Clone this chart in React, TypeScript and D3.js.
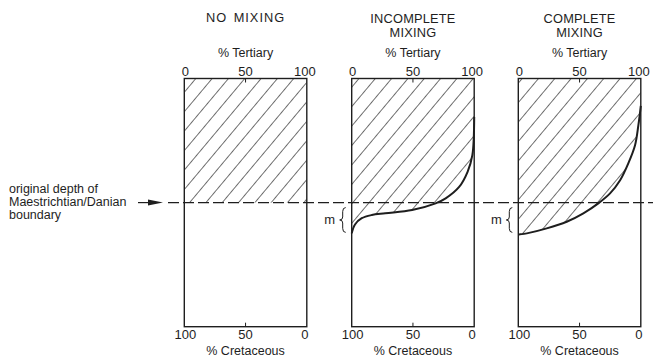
import * as d3 from 'd3';
import React from 'react';

// panel headings and axis labels
const panelTitles: string[][] = [['NO MIXING'], ['INCOMPLETE', 'MIXING'], ['COMPLETE', 'MIXING']];
const tertiaryTicks = [0, 50, 100];
const cretaceousTicks = [100, 50, 0];
const boundaryDepth = 50; // depth runs 0 (top) .. 100 (bottom)
const mixedZone = [52, 62];

// % Tertiary against depth
const incompleteTertiary = [100, 98.5, 94.6, 87.7, 76.7, 68.5, 49.3, 27.4, 16.4, 8.2, 2.7, 0];
const incompleteDepth = [15.5, 30.9, 37.6, 43.7, 48.3, 50.3, 53, 54.3, 55, 56.3, 58.8, 62.4];
const completeTertiary = [100, 98, 95.3, 89.8, 83.1, 74.9, 65.3, 53.1, 39.5, 23.2, 9.6, 1.4, 0];
const completeDepth = [11, 18.9, 26.9, 34.2, 41, 46.3, 50.3, 54.3, 57.7, 60.4, 62.1, 62.8, 62.8];

const curves: ({ t: number; d: number }[] | null)[] = [
  null,
  incompleteTertiary.map((t, i) => ({ t, d: incompleteDepth[i] })),
  completeTertiary.map((t, i) => ({ t, d: completeDepth[i] })),
];

const W = 653;
const H = 358;
const panelLeft = [184.3, 351.7, 518.3];
const panelW = 122.5;
const top = 78.5;
const bottom = 326.7;
const font = '"Liberation Sans", Arial, sans-serif';
const ink = '#1e1e1e';

const App: React.FC = () => {
  const y = d3.scaleLinear().domain([0, 100]).range([top, bottom]);
  const yb = y(boundaryDepth);

  return (
    <svg width={W} height={H} style={{ position: 'absolute', left: 0, top: 0, background: '#fff' }}
      fontFamily={font} fill={ink}>
      <defs>
        <pattern id="hatch" patternUnits="userSpaceOnUse" width={12.5} height={30}
          patternTransform="rotate(40)">
          <line x1={0} y1={0} x2={0} y2={30} stroke="#111" strokeWidth={1.2} />
        </pattern>
        {panelLeft.map((x0, i) => (
          <clipPath id={`clip${i}`} key={i}>
            <rect x={x0} y={top} width={panelW} height={bottom - top} />
          </clipPath>
        ))}
      </defs>

      {/* left annotation */}
      <g fontSize={12.5}>
        <text x={9} y={193}>original depth of</text>
        <text x={9} y={206}>Maestrichtian/Danian</text>
        <text x={9} y={219}>boundary</text>
      </g>
      <line x1={138} x2={152} y1={yb} y2={yb} stroke={ink} strokeWidth={1.2} />
      <path d={`M148,${yb - 3}L163,${yb}L148,${yb + 3}Z`} fill={ink} />

      {panelLeft.map((x0, i) => {
        const xT = d3.scaleLinear().domain([0, 100]).range([x0, x0 + panelW]);
        const xC = d3.scaleLinear().domain([100, 0]).range([x0, x0 + panelW]);
        const cx = x0 + panelW / 2;
        const pts = curves[i];
        const line = d3.line<{ t: number; d: number }>()
          .x(p => xT(p.t)).y(p => y(p.d))
          .curve(d3.curveCatmullRom.alpha(0.5));
        const linePath = pts ? line(pts) || '' : '';
        const fillPath = pts
          ? `M${xT(0)},${y(0)}L${xT(100)},${y(0)}` + linePath.replace(/^M/, 'L') + 'Z'
          : '';
        const titles = panelTitles[i];
        const bx = x0 - 6;
        const by1 = y(mixedZone[0]);
        const by2 = y(mixedZone[1]);
        const bm = (by1 + by2) / 2;
        return (
          <g key={i}>
            {titles.map((t, j) => (
              <text key={j} x={cx} y={titles.length === 1 ? 22 : 22.5 + j * 14.5} textAnchor="middle"
                fontSize={12.8} letterSpacing={titles.length === 1 ? 1 : 0.2}
                wordSpacing={titles.length === 1 ? 2 : 0}>{t}</text>
            ))}
            <text x={cx} y={57} textAnchor="middle" fontSize={12.5}>% Tertiary</text>
            {tertiaryTicks.map(v => (
              <text key={v} x={xT(v) + (v === 0 ? 1 : v === 100 ? -2 : 0)} y={76}
                textAnchor="middle" fontSize={13}>{v}</text>
            ))}
            {cretaceousTicks.map(v => (
              <text key={v} x={xC(v) + (v === 100 ? 1 : v === 0 ? -2 : 0)} y={339}
                textAnchor="middle" fontSize={13}>{v}</text>
            ))}
            <text x={cx} y={355} textAnchor="middle" fontSize={12.5}>% Cretaceous</text>

            <g clipPath={`url(#clip${i})`}>
              {pts ? (
                <path d={fillPath} fill="url(#hatch)" />
              ) : (
                <rect x={x0} y={y(0)} width={panelW} height={yb - y(0)} fill="url(#hatch)" />
              )}
            </g>
            <rect x={x0} y={top} width={panelW} height={bottom - top} fill="none" stroke={ink}
              strokeWidth={1.4} />
            <line x1={xT(50)} x2={xT(50)} y1={top} y2={top + 4} stroke={ink} strokeWidth={1} />
            <line x1={xC(50)} x2={xC(50)} y1={bottom} y2={bottom - 4} stroke={ink} strokeWidth={1} />
            {pts && (
              <>
                <path d={linePath} fill="none" stroke={ink} strokeWidth={2} />
                <path fill="none" stroke={ink} strokeWidth={1}
                  d={`M${bx},${by1}Q${bx - 3},${by1} ${bx - 3},${by1 + 4}L${bx - 3},${bm - 3}` +
                    `Q${bx - 3},${bm} ${bx - 6},${bm}Q${bx - 3},${bm} ${bx - 3},${bm + 3}` +
                    `L${bx - 3},${by2 - 4}Q${bx - 3},${by2} ${bx},${by2}`} />
                <text x={bx - 16} y={bm + 4} textAnchor="middle" fontSize={13}>m</text>
              </>
            )}
          </g>
        );
      })}

      {/* boundary */}
      <line x1={168} x2={W} y1={yb} y2={yb} stroke={ink} strokeWidth={1.1} strokeDasharray="11,4" />
    </svg>
  );
};

export default App;
